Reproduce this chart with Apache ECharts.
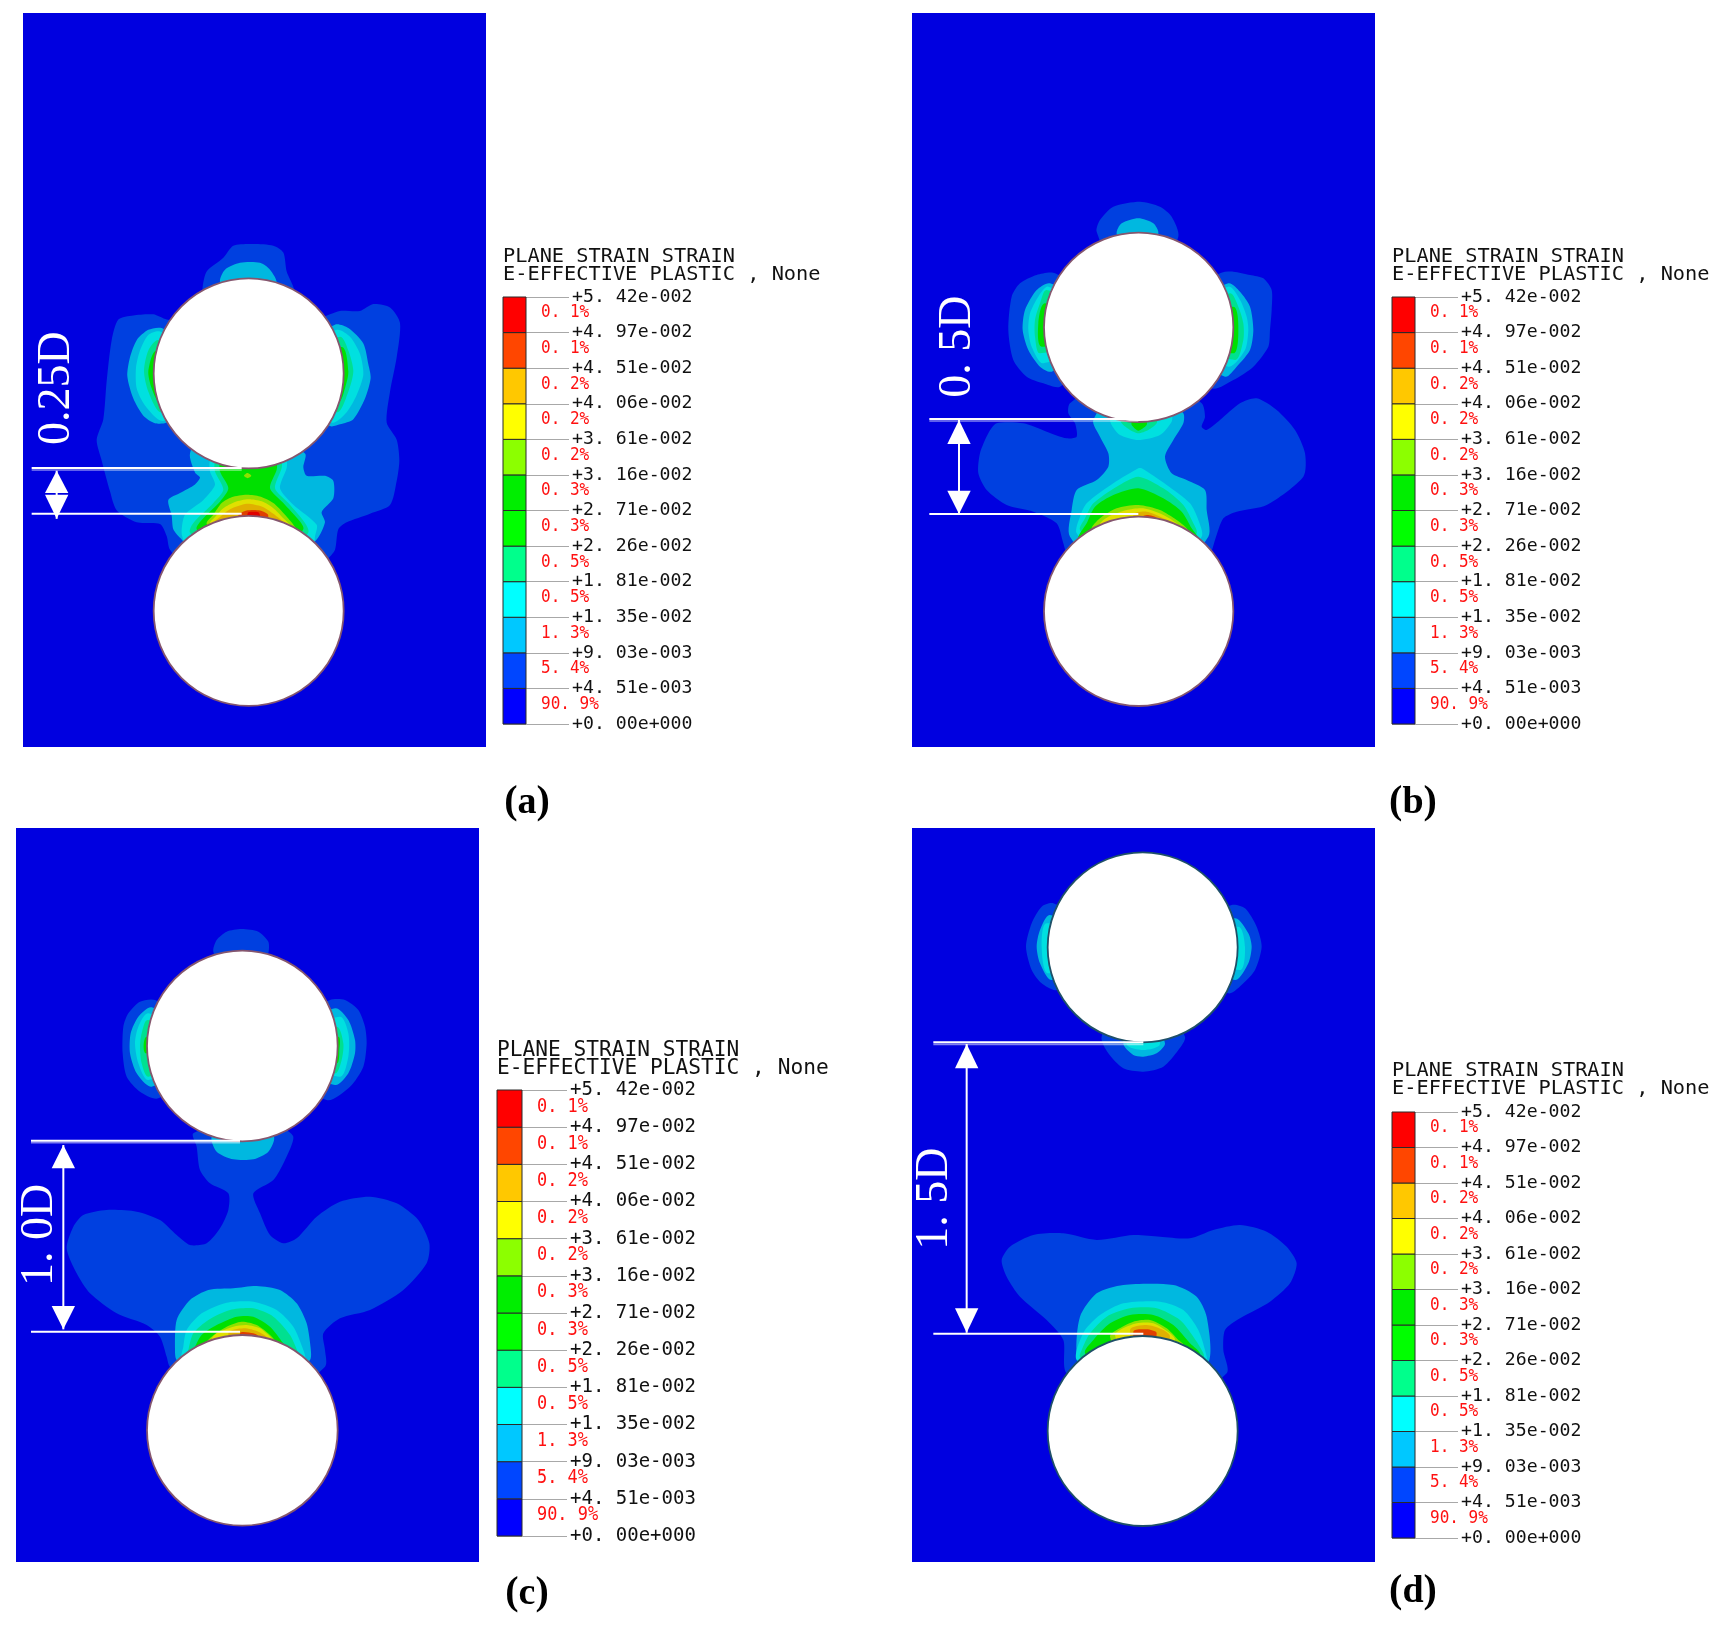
<!DOCTYPE html>
<html><head><meta charset="utf-8">
<script src="https://cdn.jsdelivr.net/npm/echarts@6/dist/echarts.min.js"></script>
<style>html,body{margin:0;background:#fff}#c{width:1728px;height:1634px}#c canvas{filter:blur(0.45px)}</style></head>
<body><div id="c"></div>
<script>
// ---- legend data
const tickLabels = ['+0. 00e+000','+4. 51e-003','+9. 03e-003','+1. 35e-002','+1. 81e-002','+2. 26e-002','+2. 71e-002','+3. 16e-002','+3. 61e-002','+4. 06e-002','+4. 51e-002','+4. 97e-002','+5. 42e-002'];
const percents = ['90. 9%','5. 4%','1. 3%','0. 5%','0. 5%','0. 3%','0. 3%','0. 2%','0. 2%','0. 2%','0. 1%','0. 1%'];
const legendColors = ['#0000ff','#0046ff','#00c8ff','#00ffff','#00ff8c','#00ff00','#00ee00','#8cff00','#ffff00','#ffc800','#ff4600','#ff0000'];
const fieldColors = ['#0040e0','#00b8e0','#00e0e0','#00e090','#00e000','#90e000','#e0e000','#e0b000','#e04000','#e00000'];
const captions = ['a','b','c','d'];
const gapLabels = ['0.25D','0. 5D','1. 0D','1. 5D'];

// ---- panel (a): contour bands, lowest level first
const a1 = [[[548,195],[560,150],[610,110],[640,75],[700,70],[760,75],[790,95],[800,150],[820,195],[850,300],[930,275],[960,265],[1020,265],[1060,245],[1110,255],[1140,300],[1130,400],[1110,500],[1100,590],[1130,640],[1138,700],[1130,760],[1110,830],[1050,855],[980,880],[955,900],[945,960],[925,985],[800,1100],[570,1100],[450,960],[440,920],[420,885],[350,880],[290,845],[270,790],[245,700],[230,640],[250,580],[260,470],[275,350],[295,290],[340,278],[400,275],[440,290],[540,300]]];
const a2 = [[[600,180],[615,145],[660,125],[720,125],[750,145],[770,185],[686,446]],
 [[425,315],[385,320],[350,350],[330,400],[322,455],[340,520],[370,570],[405,592],[440,590],[686,446]],
 [[945,305],[985,315],[1030,360],[1045,420],[1052,460],[1035,520],[1000,580],[960,595],[930,600],[686,446]],
 [[510,680],[525,735],[540,750],[525,770],[480,795],[445,815],[455,860],[460,900],[480,925],[560,1000],[800,1000],[890,930],[915,880],[905,850],[940,810],[940,760],[915,745],[860,745],[850,720],[855,680],[700,600],[560,600]]];
const a3 = [[[420,325],[385,335],[360,380],[348,430],[350,490],[375,540],[430,585],[686,446]],
 [[950,320],[990,340],[1020,390],[1030,450],[1010,510],[980,560],[935,590],[686,446]],
 [[570,700],[570,732],[585,771],[550,815],[495,858],[485,912],[500,950],[686,1136],[880,950],[885,921],[890,887],[820,829],[780,781],[800,722],[800,700],[686,446]]];
const a4 = [[[415,350],[385,380],[372,440],[385,500],[425,560],[686,446]],
 [[960,340],[985,380],[1000,440],[985,500],[950,560],[686,446]],
 [[585,700],[585,732],[610,785],[580,824],[520,882],[510,910],[686,1136],[865,910],[855,882],[805,824],[765,781],[785,722],[785,700],[686,446]]];
const a5 = [[[410,380],[385,440],[395,490],[420,530],[686,446]],
 [[965,370],[985,440],[975,490],[955,530],[686,446]],
 [[600,700],[600,732],[625,781],[600,820],[550,868],[530,900],[686,1136],[850,900],[840,878],[790,824],[750,781],[770,727],[770,700],[686,446]]];
const a6 = [[[560,885],[580,858],[605,824],[635,807],[680,800],[720,805],[760,824],[795,858],[820,887],[835,915],[686,1136]],[[672,745],[682,737],[694,745],[683,752]]];
const a7 = [[[570,885],[585,865],[610,839],[645,821],[685,813],[725,819],[760,839],[790,868],[815,892],[825,905],[686,1136]]];
const a8 = [[[585,880],[600,865],[630,842],[680,826],[725,834],[760,855],[800,887],[810,900],[686,1136]]];
const a9 = [[[655,861],[680,846],[720,846],[745,861],[686,1136]]];
const a10 = [[[682,861],[685,851],[715,851],[720,861],[686,1136]]];
const panelA_holes = [[686,447,285],[686,1138,285]];
const panelA_dim = [[35,722],[665,722],[35,855],[665,855],[110,730,795,870,800,35],[111,490]];

// ---- panel (b)
const b1 = [[[590,125],[600,90],[640,50],[720,35],[780,50],[815,80],[835,140],[716,412]],
 [[960,250],[1000,245],[1050,255],[1090,265],[1115,300],[1115,360],[1110,420],[1105,470],[1060,530],[1000,570],[935,595],[716,412]],
 [[465,250],[410,255],[360,280],[335,320],[325,420],[340,510],[380,560],[430,580],[480,590],[716,412]],
 [[510,640],[505,670],[525,700],[530,740],[500,745],[440,725],[370,700],[290,700],[265,730],[240,790],[235,850],[260,900],[320,945],[400,965],[470,1000],[490,1060],[505,1100],[716,1264],[930,1090],[945,1050],[970,985],[1010,965],[1100,945],[1210,860],[1215,790],[1185,720],[1130,660],[1070,625],[1020,640],[960,690],[920,720],[905,710],[915,680],[905,640],[716,500]]];
const b2 = [[[650,130],[665,100],[715,85],[760,100],[775,130],[716,412]],
 [[450,280],[410,300],[375,360],[368,420],[385,480],[420,530],[455,545],[716,412]],
 [[985,280],[1020,305],[1050,350],[1060,420],[1050,480],[1010,530],[975,560],[716,412]],
 [[580,690],[600,740],[625,790],[625,830],[590,870],[530,900],[515,960],[510,1040],[716,1264],[925,1040],[920,960],[915,900],[860,870],[815,850],[795,800],[820,750],[850,700],[850,670],[716,500]]];
const b3 = [[[445,290],[415,320],[390,370],[385,420],[395,470],[430,520],[716,412]],
 [[985,290],[1020,330],[1040,380],[1045,420],[1035,480],[985,530],[716,412]],
 [[630,680],[635,705],[660,735],[715,750],[780,735],[815,695],[815,670],[716,500]],
 [[715,835],[640,880],[560,940],[540,980],[530,1030],[716,1264],[905,1040],[895,990],[870,940],[800,885],[725,835]]];
const b4 = [[[440,300],[420,340],[405,390],[405,440],[420,490],[716,412]],
 [[990,310],[1015,350],[1030,400],[1030,450],[1005,510],[716,412]],
 [[660,680],[665,700],[690,720],[715,730],[745,720],[770,700],[770,680],[716,500]],
 [[715,860],[650,890],[580,940],[555,985],[540,1020],[716,1264],[890,1030],[880,1000],[850,945],[790,895]]];
const b5 = [[[435,340],[415,400],[425,470],[716,412]],
 [[1000,350],[1015,420],[1000,490],[716,412]],
 [[695,690],[695,705],[715,722],[740,705],[740,690],[716,500]],
 [[535,1050],[560,1000],[585,950],[640,915],[715,895],[790,925],[845,965],[875,1015],[900,1060],[716,1264]]];
const b6 = [[[575,1020],[600,985],[650,955],[715,945],[780,960],[830,990],[860,1015],[870,1040],[716,1264]]];
const b7 = [[[600,1005],[625,980],[680,960],[730,955],[790,975],[830,1000],[845,1020],[716,1264]]];
const b8 = [[[700,975],[740,965],[790,985],[810,1000],[716,1264]]];
const b9 = [[[720,985],[745,975],[775,990],[716,1264]]];
const b10 = [];
const panelB_holes = [[716,412,284],[716,1264,284]];
const panelB_dim = [[88,687],[715,687],[88,972],[715,972],[177,690,762,972,902,35],[174,470]];

// ---- panel (c)
const c1 = [[[580,95],[590,60],[620,35],[665,27],[715,35],[745,65],[745,100],[667,378]],
 [[405,240],[360,245],[325,280],[310,320],[308,400],[320,470],[360,515],[415,535],[667,378]],
 [[930,240],[975,240],[1015,270],[1035,320],[1040,370],[1030,440],[990,500],[920,540],[667,378]],
 [[520,640],[530,680],[540,750],[570,790],[625,820],[625,870],[600,925],[560,970],[510,975],[470,945],[420,900],[350,875],[260,870],[190,885],[160,920],[140,985],[170,1060],[210,1120],[290,1180],[380,1215],[420,1250],[440,1310],[450,1340],[667,1531],[915,1340],[915,1290],[910,1240],[960,1195],[1050,1170],[1150,1110],[1220,1030],[1228,970],[1195,900],[1130,850],[1050,830],[960,845],[890,890],[830,955],[790,970],[750,945],[720,880],[700,820],[760,780],[795,720],[820,650],[780,620],[667,600]]];
const c2 = [[[395,262],[355,290],[332,340],[330,400],[350,460],[395,500],[667,378]],
 [[945,265],[985,300],[1005,360],[1005,400],[985,460],[945,495],[667,378]],
 [[575,650],[590,695],[640,718],[700,718],[745,695],[762,650],[667,500]],
 [[470,1320],[465,1290],[470,1200],[510,1140],[565,1110],[640,1105],[710,1098],[780,1110],[830,1150],[860,1210],[872,1285],[870,1320],[667,1531]]];
const c3 = [[[385,280],[355,320],[345,370],[355,430],[385,480],[667,378]],
 [[960,290],[985,340],[985,410],[960,470],[667,378]],
 [[485,1320],[490,1280],[500,1230],[545,1180],[620,1148],[700,1145],[770,1170],[820,1220],[850,1290],[855,1320],[667,1531]]];
const c4 = [[[383,300],[365,340],[360,380],[365,430],[385,470],[667,378]],
 [[950,320],[970,370],[965,420],[945,460],[667,378]],
 [[500,1320],[505,1290],[520,1240],[565,1200],[630,1170],[700,1165],[760,1190],[810,1245],[835,1300],[845,1330],[667,1531]]];
const c5 = [[[380,350],[378,400],[667,378]],[[955,350],[958,390],[950,430],[667,378]],
 [[505,1320],[520,1290],[545,1245],[590,1215],[650,1190],[700,1190],[750,1220],[790,1270],[820,1310],[667,1531]]];
const c6 = [[[560,1270],[575,1250],[620,1220],[665,1205],[710,1215],[750,1245],[785,1285],[795,1300],[667,1531]]];
const c7 = [[[575,1260],[590,1240],[640,1220],[680,1215],[720,1225],[755,1255],[770,1275],[667,1531]]];
const c8 = [[[625,1240],[670,1225],[715,1235],[745,1260],[667,1531]]];
const c9 = [[[660,1240],[700,1240],[715,1250],[667,1531]]];
const c10 = [];
const panelC_holes = [[667,378,286],[667,1531,286]];
const panelC_dim = [[33,662],[660,662],[33,1235],[660,1235],[130,675,745,1228,1158,35],[59,945]];

// ---- panel (d)
const d1 = [[[400,190],[365,200],[335,250],[318,320],[335,390],[365,430],[410,450],[668,322]],
 [[935,195],[975,205],[1010,260],[1025,320],[1005,390],[970,430],[925,460],[668,322]],
 [[545,590],[565,640],[610,685],[670,695],[730,680],[775,630],[795,590],[668,322]],
 [[245,1260],[270,1220],[340,1185],[430,1180],[530,1200],[640,1185],[720,1190],[810,1195],[880,1170],[960,1155],[1040,1175],[1100,1220],[1130,1270],[1110,1330],[1050,1385],[960,1435],[915,1470],[910,1530],[920,1600],[668,1773],[440,1600],[430,1500],[380,1440],[300,1370],[260,1310]]];
const d2 = [[[390,225],[360,270],[350,320],[360,370],[395,420],[668,322]],
 [[945,235],[985,280],[995,320],[985,370],[945,420],[668,322]],
 [[610,610],[640,645],[670,650],[710,640],[735,610],[668,322]],
 [[470,1540],[480,1430],[530,1360],[610,1335],[760,1335],[830,1370],[860,1430],[868,1560],[800,1600],[500,1600]]];
const d3 = [[[380,250],[365,320],[385,400],[668,322]],[[955,260],[975,320],[960,390],[668,322]],
 [[620,612],[670,630],[720,612],[668,322]],
 [[470,1560],[470,1530],[495,1470],[540,1425],[610,1390],[720,1385],[790,1410],[835,1470],[860,1550],[860,1580],[668,1773]]];
const d4 = [[[480,1550],[485,1530],[510,1480],[560,1430],[630,1405],[710,1405],[780,1440],[820,1490],[850,1540],[850,1565],[668,1773]]];
const d5 = [[[495,1540],[520,1500],[570,1450],[630,1425],[700,1425],[760,1455],[810,1510],[840,1545],[668,1773]]];
const d6 = [[[570,1490],[590,1470],[640,1445],[690,1440],[740,1465],[775,1500],[790,1515],[668,1773]]];
const d7 = [[[585,1485],[600,1470],[650,1450],[700,1450],[750,1480],[765,1500],[668,1773]]];
const d8 = [[[630,1470],[680,1455],[730,1470],[750,1490],[668,1773]]];
const d9 = [[[640,1475],[680,1468],[710,1480],[668,1773]]];
const d10 = [];
const panelD_holes = [[668,322,285],[668,1773,285]];
const panelD_dim = [[40,607],[670,607],[40,1481],[670,1481],[140,612,685,1478,1405,35],[46,1076]];

const panels = [
 {bands:[a1,a2,a3,a4,a5,a6,a7,a8,a9,a10],holes:panelA_holes,dim:panelA_dim,ring:'#85566e',
  box:[23,13,463,734],xr:[9,1398],yr:[-602,1534],
  leg:{l:503,r:569,t:297,b:724,bw:23,pct:38,f:18.2,pf:18,sx:.89},title:[503,248,20.3,17.8],cap:[527,803]},
 {bands:[b1,b2,b3,b4,b5,b6,b7,b8,b9,b10],holes:panelB_holes,dim:panelB_dim,ring:'#85566e',
  box:[912,13,463,734],xr:[36,1425],yr:[-531,1671],
  leg:{l:1392,r:1458,t:297,b:724,bw:23,pct:38,f:18.2,pf:18,sx:.89},title:[1392,248,20.3,17.8],cap:[1413,803]},
 {bands:[c1,c2,c3,c4,c5,c6,c7,c8,c9,c10],holes:panelC_holes,dim:panelC_dim,ring:'#85566e',
  box:[16,828,463,734],xr:[-12,1377],yr:[-276,1926],
  leg:{l:497,r:567,t:1090,b:1536,bw:25,pct:40,f:19,pf:19,sx:.89},title:[497,1041,21.2,18.6],cap:[527,1594]},
 {bands:[d1,d2,d3,d4,d5,d6,d7,d8,d9,d10],holes:panelD_holes,dim:panelD_dim,ring:'#1f5068',
  box:[912,828,463,734],xr:[-24,1365],yr:[-36,2166],
  leg:{l:1392,r:1458,t:1112,b:1538,bw:23,pct:38,f:18.2,pf:18,sx:.89},title:[1392,1062,20.3,17.8],cap:[1413,1592]}
];

const grid=[],xAxis=[],yAxis=[],series=[],title=[];
const MONO='"DejaVu Sans Mono",monospace';
panels.forEach((p,i)=>{
  const fg=grid.length;
  grid.push({left:p.box[0],top:p.box[1],width:p.box[2],height:p.box[3],show:true,backgroundColor:'#0000e0',borderWidth:0});
  xAxis.push({type:'value',gridIndex:fg,min:p.xr[0],max:p.xr[1],show:false});
  yAxis.push({type:'value',gridIndex:fg,min:p.yr[0],max:p.yr[1],inverse:true,show:false});
  // contour polygons
  const polys=[];
  p.bands.forEach((band,k)=>band.forEach(pts=>polys.push({k,pts})));
  series.push({type:'custom',xAxisIndex:fg,yAxisIndex:fg,silent:true,clip:true,
    data:polys.map((q,n)=>[n]),
    renderItem:(par,api)=>{const q=polys[par.dataIndex];
      return {type:'polygon',shape:{points:q.pts.map(v=>api.coord(v)),smooth:0.25},style:{fill:fieldColors[q.k]}};}});
  // holes
  series.push({type:'custom',xAxisIndex:fg,yAxisIndex:fg,silent:true,clip:true,z:3,
    data:p.holes.map(h=>h),
    renderItem:(par,api)=>{const h=p.holes[par.dataIndex],c=api.coord([h[0],h[1]]);
      return {type:'circle',shape:{cx:c[0],cy:c[1],r:api.size([h[2],0])[0]},style:{fill:'#fff',stroke:p.ring,lineWidth:1.8}};}});
  // dimension annotation
  const D=p.dim,A=D[4];
  series.push({type:'custom',xAxisIndex:fg,yAxisIndex:fg,silent:true,clip:false,z:5,
    data:[[0]],
    renderItem:(par,api)=>{
      const c=v=>api.coord(v);
      const ln=(u,v,w,o)=>({type:'line',shape:{x1:c(u)[0],y1:c(u)[1],x2:c(v)[0],y2:c(v)[1]},style:{stroke:'#fff',lineWidth:w||2,opacity:o||1}});
      const tri=(tip,base)=>({type:'polygon',shape:{points:[c([A[0],tip]),c([A[0]-A[5],base]),c([A[0]+A[5],base])]},style:{fill:'#fff'}});
      const t=c(D[5]);
      return {type:'group',children:[
        ln(D[0],D[1]),ln([D[0][0],D[0][1]+6],[D[1][0],D[1][1]+6],1.6,0.5),ln(D[2],D[3]),ln([A[0],A[1]],[A[0],A[3]]),tri(A[1],A[2]),tri(A[3],A[4]),
        {type:'text',x:t[0],y:t[1],rotation:Math.PI/2,style:{text:gapLabels[i],x:0,y:0,fill:'#fff',font:'46px "Liberation Serif"',align:'center',verticalAlign:'middle',textAlign:'center',textVerticalAlign:'middle'}}
      ]};
    }});
  // legend
  const L=p.leg,lg=grid.length;
  grid.push({left:L.l,top:L.t,width:L.r-L.l,height:L.b-L.t,show:false});
  xAxis.push({type:'value',gridIndex:lg,min:0,max:L.r-L.l,show:false});
  yAxis.push({type:'value',gridIndex:lg,min:0,max:12,interval:1,position:'right',
    axisLine:{show:false},axisTick:{show:false},
    splitLine:{show:true,lineStyle:{color:'#a8a8a8',width:1}},
    axisLabel:{show:true,margin:3,color:'#111',fontFamily:MONO,fontSize:L.f,showMinLabel:true,showMaxLabel:true,hideOverlap:false,padding:[0,0,3,0],
      formatter:v=>tickLabels[v]}});
  series.push({type:'custom',xAxisIndex:lg,yAxisIndex:lg,silent:true,clip:false,z:4,
    data:percents.map((s,n)=>[n,n+1]),
    renderItem:(par,api)=>{
      const n=par.dataIndex,a=api.coord([0,n+1]),b=api.coord([L.bw,n]),m=api.coord([L.pct,n+0.5]);
      return {type:'group',children:[
       {type:'rect',shape:{x:a[0],y:a[1],width:b[0]-a[0],height:b[1]-a[1]},style:{fill:legendColors[n],stroke:'#2a2a2a',lineWidth:1}},
       {type:'text',x:m[0],y:m[1]-2,scaleX:L.sx,style:{text:percents[n],x:0,y:0,fill:'#ff1010',font:L.pf+'px '+MONO,align:'left',verticalAlign:'middle',textAlign:'left',textVerticalAlign:'middle'}}
      ]};
    }});
  // legend heading and caption
  title.push({text:'PLANE STRAIN STRAIN\nE-EFFECTIVE PLASTIC , None',left:p.title[0],top:p.title[1],padding:0,
    textStyle:{fontFamily:MONO,fontWeight:'normal',fontSize:p.title[2],lineHeight:p.title[3],color:'#111'}});
  title.push({text:'{p|(}{b|'+captions[i]+'}{p|)}',left:p.cap[0],top:p.cap[1],textAlign:'center',textVerticalAlign:'middle',padding:0,
    textStyle:{rich:{p:{fontFamily:'Liberation Serif',fontSize:40,color:'#000'},b:{fontFamily:'Liberation Serif',fontSize:38,fontWeight:'bold',color:'#000'}}}});
});
const chart=echarts.init(document.getElementById('c'),null,{renderer:'canvas',width:1728,height:1634});
chart.setOption({animation:false,backgroundColor:'#fff',title,grid,xAxis,yAxis,series,tooltip:{show:false}});
</script></body></html>
